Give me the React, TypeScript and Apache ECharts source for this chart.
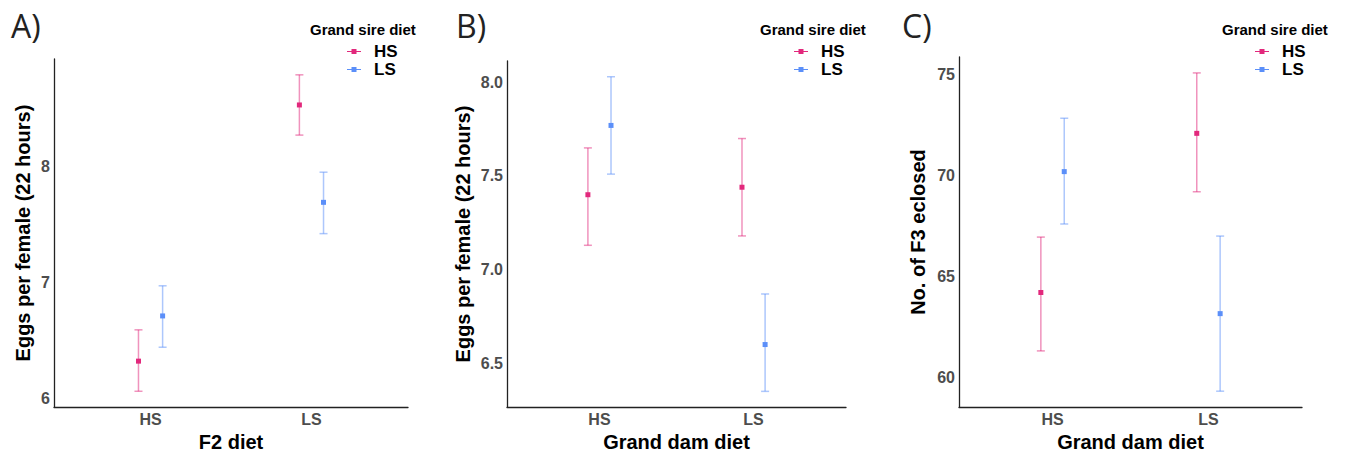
import React, { useEffect, useRef } from "react";
import * as echarts from "echarts";

// ---- data ----
const categories = ["HS", "LS"];
const sireDiets = ["HS", "LS"];

// Panel A: x = F2 diet
const aHSMean = [6.32, 8.53];
const aHSLow = [6.06, 8.27];
const aHSHigh = [6.59, 8.79];
const aLSMean = [6.71, 7.69];
const aLSLow = [6.44, 7.42];
const aLSHigh = [6.97, 7.95];
const aTicks = [6, 7, 8];

// Panel B: x = Grand dam diet
const bHSMean = [7.4, 7.44];
const bHSLow = [7.13, 7.18];
const bHSHigh = [7.65, 7.7];
const bLSMean = [7.77, 6.6];
const bLSLow = [7.51, 6.35];
const bLSHigh = [8.03, 6.87];
const bTicks = [6.5, 7.0, 7.5, 8.0];

// Panel C: x = Grand dam diet
const cHSMean = [64.2, 72.1];
const cHSLow = [61.3, 69.2];
const cHSHigh = [66.95, 75.1];
const cLSMean = [70.2, 63.15];
const cLSLow = [67.6, 59.3];
const cLSHigh = [72.85, 67.0];
const cTicks = [60, 65, 70, 75];

const panelLabels = ["A)", "B)", "C)"];
const xTitles = ["F2 diet", "Grand dam diet", "Grand dam diet"];
const yTitles = ["Eggs per female (22 hours)", "Eggs per female (22 hours)", "No. of F3 eclosed"];
const legendTitle = "Grand sire diet";

const PINK = "#e2287c";
const BLUE = "#5b8ff9";
const DODGE = 0.075;
const FONT = "'Liberation Sans', Arial, sans-serif";

type Panel = {
  hs: number[][];
  ls: number[][];
  ticks: number[];
  decimals: number;
  grid: { left: number; top: number; width: number; height: number };
  yGap: number;
  labelX: number;
  legendX: number;
  legendTitleX: number;
};

const panels: Panel[] = [
  {
    hs: [aHSMean, aHSLow, aHSHigh],
    ls: [aLSMean, aLSLow, aLSHigh],
    ticks: aTicks,
    decimals: 0,
    grid: { left: 54, top: 59, width: 354, height: 353 },
    yGap: 21,
    labelX: 11,
    legendX: 347,
    legendTitleX: 310,
  },
  {
    hs: [bHSMean, bHSLow, bHSHigh],
    ls: [bLSMean, bLSLow, bLSHigh],
    ticks: bTicks,
    decimals: 1,
    grid: { left: 507, top: 61, width: 339, height: 351 },
    yGap: 34,
    labelX: 456,
    legendX: 794,
    legendTitleX: 760,
  },
  {
    hs: [cHSMean, cHSLow, cHSHigh],
    ls: [cLSMean, cLSLow, cLSHigh],
    ticks: cTicks,
    decimals: 0,
    grid: { left: 959, top: 57, width: 343, height: 354 },
    yGap: 31,
    labelX: 902,
    legendX: 1255,
    legendTitleX: 1222,
  },
];

function extent(p: Panel) {
  const lows = [...p.hs[1], ...p.ls[1]];
  const highs = [...p.hs[2], ...p.ls[2]];
  const lo = Math.min(...lows);
  const hi = Math.max(...highs);
  const pad = (hi - lo) * 0.05;
  return [lo - pad, hi + pad];
}

const legendIcon =
  "path://M0,4 L4.5,4 L4.5,2 L9.5,2 L9.5,4 L14,4 L14,5 L9.5,5 L9.5,7 L4.5,7 L4.5,5 L0,5 Z";

function errorBarSeries(name: string, color: string, idx: number, vals: number[][], offset: number) {
  return {
    type: "custom",
    name,
    xAxisIndex: idx,
    yAxisIndex: idx,
    itemStyle: { color },
    data: categories.map((_, i) => [i + 1 + offset, vals[1][i], vals[2][i]]),
    renderItem: (params: any, api: any) => {
      const x = api.value(0);
      const pLo = api.coord([x, api.value(1)]);
      const pHi = api.coord([x, api.value(2)]);
      const cap = 4;
      const style = { stroke: color, lineWidth: 1.5, opacity: 0.5 };
      return {
        type: "group",
        children: [
          { type: "line", shape: { x1: pLo[0], y1: pLo[1], x2: pHi[0], y2: pHi[1] }, style },
          { type: "line", shape: { x1: pLo[0] - cap, y1: pLo[1], x2: pLo[0] + cap, y2: pLo[1] }, style },
          { type: "line", shape: { x1: pHi[0] - cap, y1: pHi[1], x2: pHi[0] + cap, y2: pHi[1] }, style },
        ],
      };
    },
    z: 2,
  };
}

function pointSeries(name: string, color: string, idx: number, vals: number[][], offset: number) {
  return {
    type: "scatter",
    name,
    xAxisIndex: idx,
    yAxisIndex: idx,
    symbol: "rect",
    symbolSize: 5,
    itemStyle: { color, opacity: 1 },
    data: categories.map((_, i) => [i + 1 + offset, vals[0][i]]),
    z: 3,
  };
}

function buildOption() {
  const grid: any[] = [];
  const xAxis: any[] = [];
  const yAxis: any[] = [];
  const series: any[] = [];
  const legend: any[] = [];
  const title: any[] = [];

  panels.forEach((p, idx) => {
    grid.push({ ...p.grid, containLabel: false });
    const [ymin, ymax] = extent(p);
    xAxis.push({
      type: "value",
      gridIndex: idx,
      min: 0.4,
      max: 2.6,
      name: xTitles[idx],
      nameLocation: "middle",
      nameGap: 21,
      nameTextStyle: { fontFamily: FONT, fontWeight: "bold", fontSize: 20, color: "#000" },
      axisLine: { show: true, lineStyle: { color: "#222", width: 1.3 } },
      axisTick: { show: false },
      splitLine: { show: false },
      axisLabel: {
        customValues: categories.map((_, i) => i + 1),
        formatter: (v: number) => categories[Math.round(v) - 1] ?? "",
        fontFamily: FONT,
        fontWeight: "bold",
        fontSize: 16,
        color: "#4d4d4d",
        margin: 4,
      },
    });
    yAxis.push({
      type: "value",
      gridIndex: idx,
      min: ymin,
      max: ymax,
      name: yTitles[idx],
      nameLocation: "middle",
      nameGap: p.yGap,
      nameRotate: 90,
      nameTextStyle: { fontFamily: FONT, fontWeight: "bold", fontSize: 20, color: "#000" },
      axisLine: { show: true, lineStyle: { color: "#222", width: 1.3 } },
      axisTick: { show: false },
      splitLine: { show: false },
      axisLabel: {
        customValues: p.ticks,
        formatter: (v: number) => v.toFixed(p.decimals),
        fontFamily: FONT,
        fontWeight: "bold",
        fontSize: 16,
        color: "#4d4d4d",
        margin: 4,
      },
    });
    series.push(errorBarSeries(sireDiets[0], PINK, idx, p.hs, -DODGE));
    series.push(errorBarSeries(sireDiets[1], BLUE, idx, p.ls, DODGE));
    series.push(pointSeries(sireDiets[0], PINK, idx, p.hs, -DODGE));
    series.push(pointSeries(sireDiets[1], BLUE, idx, p.ls, DODGE));

    legend.push({
      orient: "vertical",
      left: p.legendX,
      top: 43,
      padding: 0,
      itemWidth: 14,
      itemHeight: 9,
      itemGap: 1,
      selectedMode: false,
      icon: legendIcon,
      data: [
        { name: sireDiets[0], itemStyle: { color: PINK } },
        { name: sireDiets[1], itemStyle: { color: BLUE } },
      ],
      textStyle: {
        fontFamily: FONT,
        fontWeight: "bold",
        fontSize: 17,
        color: "#000",
        lineHeight: 17,
        padding: [0, 0, 0, 8],
      },
    });
    title.push({
      text: legendTitle,
      left: p.legendTitleX,
      top: 22,
      padding: 0,
      textStyle: { fontFamily: FONT, fontWeight: "bold", fontSize: 15, color: "#000" },
    });
    title.push({
      text: panelLabels[idx],
      left: p.labelX,
      top: 9,
      padding: 0,
      textStyle: { fontFamily: "'Open Sans', sans-serif", fontWeight: "normal", fontSize: 32, color: "#222" },
    });
  });

  return {
    animation: false,
    backgroundColor: "#fff",
    title,
    legend,
    grid,
    xAxis,
    yAxis,
    series,
  };
}

export default function App() {
  const ref = useRef<HTMLDivElement>(null);
  useEffect(() => {
    if (!ref.current) return;
    const chart = echarts.init(ref.current, undefined, { renderer: "svg" });
    chart.setOption(buildOption() as any);
    return () => chart.dispose();
  }, []);
  return (
    <div
      ref={ref}
      style={{ position: "fixed", left: 0, top: 0, width: 1354, height: 457, background: "#fff" }}
    />
  );
}
